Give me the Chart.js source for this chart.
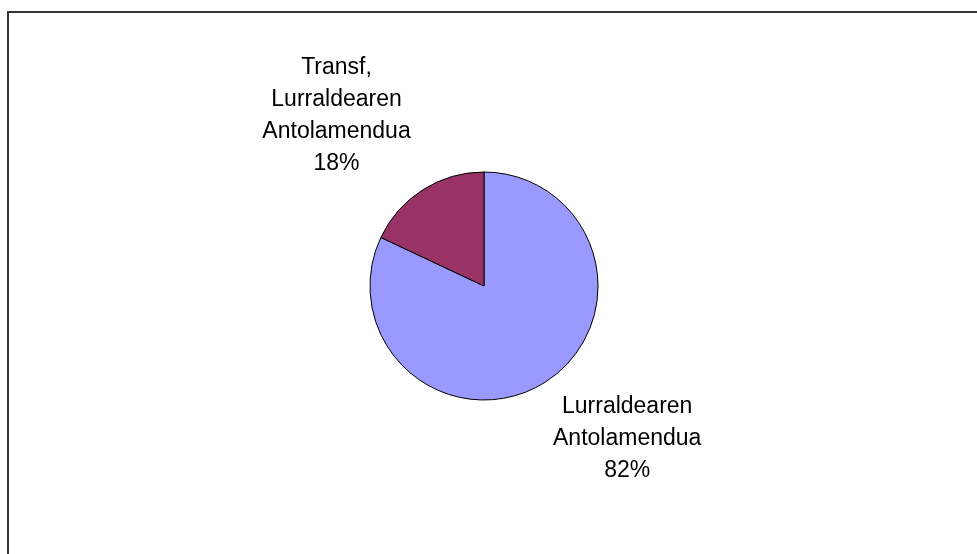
<!DOCTYPE html>
<html>
<head>
<meta charset="utf-8">
<script src="https://cdn.jsdelivr.net/npm/chart.js@4.4.0/dist/chart.umd.min.js"></script>
<style>
  html, body { margin: 0; padding: 0; background: #fff; overflow: hidden; }
  #wrap { position: relative; width: 977px; height: 554px; }
  #frame {
    position: absolute; left: 7px; top: 11px; width: 990px; height: 560px;
    border-left: 2px solid #333; border-top: 2px solid #333;
  }
  #pieChart { position: absolute; left: 0; top: 0; }
</style>
</head>
<body>
<div id="wrap">
  <div id="frame"></div>
  <canvas id="pieChart" width="977" height="554"></canvas>
</div>
<script>
// slice data (clockwise from 12 o'clock)
const categories = [['Lurraldearen', 'Antolamendua'], ['Transf,', 'Lurraldearen', 'Antolamendua']];
const shares = [82, 18];
const sliceColors = ['#9999FF', '#993366'];

// outside labels: placed along each slice's mid angle, pushed clear of the pie
const labelDist = [1.13, 1.2]; // in pie radii
const outsideLabels = {
    id: 'outsideLabels',
    afterDatasetsDraw(chart) {
        const ctx = chart.ctx;
        const arcs = chart.getDatasetMeta(0).data;
        const lineH = 32, capH = 18;
        ctx.save();
        ctx.font = '23px "Liberation Sans", Arial, sans-serif';
        ctx.fillStyle = '#000';
        ctx.textAlign = 'center';
        ctx.textBaseline = 'alphabetic';
        arcs.forEach((arc, i) => {
            const lines = categories[i].concat([shares[i] + '%']);
            const mid = (arc.startAngle + arc.endAngle) / 2;
            const dx = Math.cos(mid), dy = Math.sin(mid);
            const halfW = Math.max(...lines.map(l => ctx.measureText(l).width)) / 2;
            const halfH = ((lines.length - 1) * lineH + capH) / 2;
            const d = arc.outerRadius * labelDist[i];
            const cx = arc.x + dx * d + Math.sign(dx) * halfW;
            const cy = arc.y + dy * d + Math.sign(dy) * halfH;
            const firstBase = cy - halfH + capH;
            lines.forEach((l, k) => ctx.fillText(l, cx, firstBase + k * lineH));
        });
        ctx.restore();
    }
};

const ctx = document.getElementById('pieChart').getContext('2d');
new Chart(ctx, {
    type: 'pie',
    data: {
        labels: categories.map(c => c.join(' ')),
        datasets: [{
            data: shares,
            backgroundColor: sliceColors,
            borderColor: '#000',
            borderWidth: 1,
            hoverOffset: 0
        }]
    },
    options: {
        responsive: false,
        animation: false,
        layout: { padding: { left: 369.5, right: 378.5, top: 171.5, bottom: 153.5 } },
        plugins: { legend: { display: false }, tooltip: { enabled: false } }
    },
    plugins: [outsideLabels]
});
</script>
</body>
</html>
